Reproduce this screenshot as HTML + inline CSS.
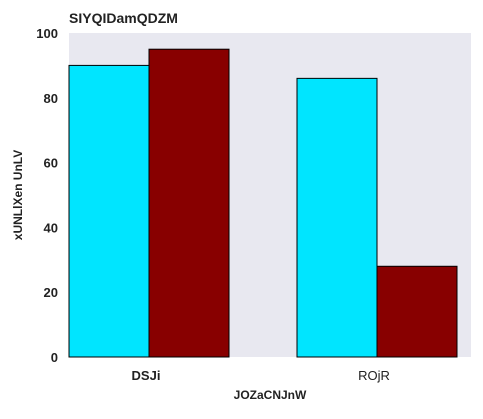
<!DOCTYPE html>
<html><head><style>
body{margin:0;background:#fff;}
text{font-family:"Liberation Sans",sans-serif;}
</style></head><body>
<svg id="c" width="483" height="414" xmlns="http://www.w3.org/2000/svg">
<rect x="69" y="33" width="402" height="324" fill="#e8e8f0"/>
<text x="69" y="23" font-size="14" font-weight="bold" fill="#222">SIYQIDamQDZM</text>
<text transform="translate(22,195) rotate(-90)" text-anchor="middle" font-size="12" font-weight="bold" fill="#222">xUNLlXen UnLV</text>
<text x="270" y="399" text-anchor="middle" font-size="12" font-weight="bold" fill="#222">JOZaCNJnW</text>
<g id="bars"></g><g id="ticks"></g>
</svg>
<script>
const categories=["DSJi","ROjR"];
const seriesA=[90,86];
const seriesB=[95,28];
const yTicks=[0,20,40,60,80,100];
const ns="http://www.w3.org/2000/svg";
const y=v=>357-v*3.24;
const xc=i=>149+i*228;
const bars=document.getElementById('bars'),ticks=document.getElementById('ticks');
function rect(x,v,fill,name){const r=document.createElementNS(ns,'rect');
r.setAttribute('x',x);r.setAttribute('y',y(v));r.setAttribute('width',80);r.setAttribute('height',357-y(v));
r.setAttribute('fill',fill);r.setAttribute('stroke','#000');r.setAttribute('stroke-width','1');


bars.appendChild(r);}
categories.forEach((c,i)=>{
rect(xc(i)-80,seriesA[i],'#00e5ff','bar-a-'+c);
rect(xc(i),seriesB[i],'#880000','bar-b-'+c);
const t=document.createElementNS(ns,'text');t.setAttribute('x',xc(i)-3);t.setAttribute('y',380);
t.setAttribute('text-anchor','middle');t.setAttribute('font-size','13');t.setAttribute('fill','#222');
if(i==0)t.setAttribute('font-weight','bold');t.textContent=c;


ticks.appendChild(t);});
yTicks.forEach(v=>{const t=document.createElementNS(ns,'text');t.setAttribute('x',58);t.setAttribute('y',y(v)+5);
t.setAttribute('text-anchor','end');t.setAttribute('font-size','13');t.setAttribute('font-weight','bold');t.setAttribute('fill','#222');
t.textContent=v;


ticks.appendChild(t);});
</script>
</body></html>
